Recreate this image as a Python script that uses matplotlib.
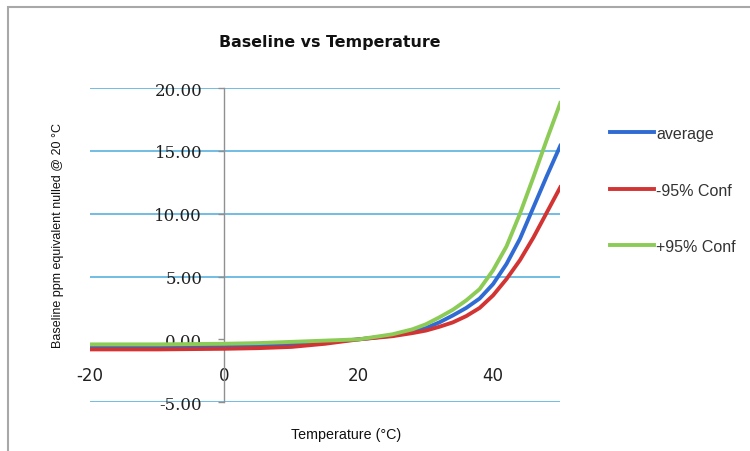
import matplotlib
matplotlib.use("Agg")
import matplotlib.pyplot as plt

# Values
temps = [-20, -10, 0, 5, 10, 15, 20, 25, 28, 30, 32, 34, 36, 38, 40, 42, 44, 46, 48, 50]
average = [-0.6, -0.6, -0.55, -0.5, -0.4, -0.22, 0.0, 0.3, 0.6, 0.9, 1.35, 1.9,
           2.5, 3.25, 4.4, 6.0, 8.0, 10.5, 13.0, 15.4]
conf_minus = [-0.8, -0.8, -0.75, -0.7, -0.6, -0.35, 0.0, 0.25, 0.5, 0.7, 1.0, 1.35,
              1.85, 2.5, 3.5, 4.8, 6.3, 8.1, 10.1, 12.1]
conf_plus = [-0.4, -0.4, -0.35, -0.3, -0.2, -0.1, 0.0, 0.4, 0.8, 1.2, 1.75, 2.35,
             3.1, 4.0, 5.5, 7.4, 10.0, 12.9, 15.9, 18.8]

x_ticks = [-20, 0, 20, 40]
y_ticks = [-5, 0, 5, 10, 15, 20]
y_tick_labels = ["-5.00", "0.00", "5.00", "10.00", "15.00", "20.00"]

plt.rcParams['font.family'] = ['Liberation Sans', 'DejaVu Sans']

fig = plt.figure(figsize=(7.5, 4.52), dpi=100)
ax = fig.add_axes([0.12, 0.108, 0.627, 0.695])

ax.plot(temps, average, color='#2F6BD3', lw=2.8, label='average', zorder=3)
ax.plot(temps, conf_minus, color='#D23333', lw=2.8, label='-95% Conf', zorder=3)
ax.plot(temps, conf_plus, color='#8CCB56', lw=2.8, label='+95% Conf', zorder=3)

ax.set_xlim(-20, 50)
ax.set_ylim(-5, 20)

# gridlines (none at zero)
for yv in y_ticks:
    if yv != 0:
        ax.axhline(yv, color='#5AB1DE', lw=1.2, zorder=1)

for s in ['top', 'right']:
    ax.spines[s].set_visible(False)
ax.spines['left'].set_position(('data', 0))
ax.spines['left'].set_color('#909090')
ax.spines['left'].set_linewidth(1.0)
ax.spines['bottom'].set_position(('data', 0))
ax.spines['bottom'].set_visible(False)

ax.set_yticks(y_ticks)
ax.set_yticklabels(y_tick_labels, fontsize=12, color='#202020',
                   family=['DejaVu Serif'])
ax.tick_params(axis='y', length=4, width=1, color='#909090', pad=12)

ax.set_xticks(x_ticks)
ax.set_xticklabels([str(v) for v in x_ticks], fontsize=12, color='#202020',
                   family=['DejaVu Sans'])
ax.tick_params(axis='x', length=0, pad=19)

fig.text(0.44, 0.907, 'Baseline vs Temperature', ha='center', va='center',
         fontsize=11.4, fontweight='bold', color='#111111', family=['DejaVu Sans'])
fig.text(0.077, 0.48, 'Baseline ppm equivalent nulled @ 20 \u00b0C', rotation=90,
         ha='center', va='center', fontsize=9, color='#111111')
fig.text(0.462, 0.038, 'Temperature (\u00b0C)', ha='center', va='center',
         fontsize=10.3, color='#111111')

ax.legend(loc='upper left', bbox_to_anchor=(1.075, 0.925), frameon=False,
          fontsize=11.5, labelspacing=2.6, handlelength=2.75, handletextpad=0.15,
          labelcolor='#333333')

# chart frame (left and top edges visible)
frame = plt.Rectangle((8 / 750, -0.1), 1.2, 1 - 8 / 452 + 0.1, transform=fig.transFigure,
                      fill=False, edgecolor='#A8A8A8', lw=1.5, clip_on=False)
fig.patches.append(frame)

fig.savefig('out.png', dpi=100)
